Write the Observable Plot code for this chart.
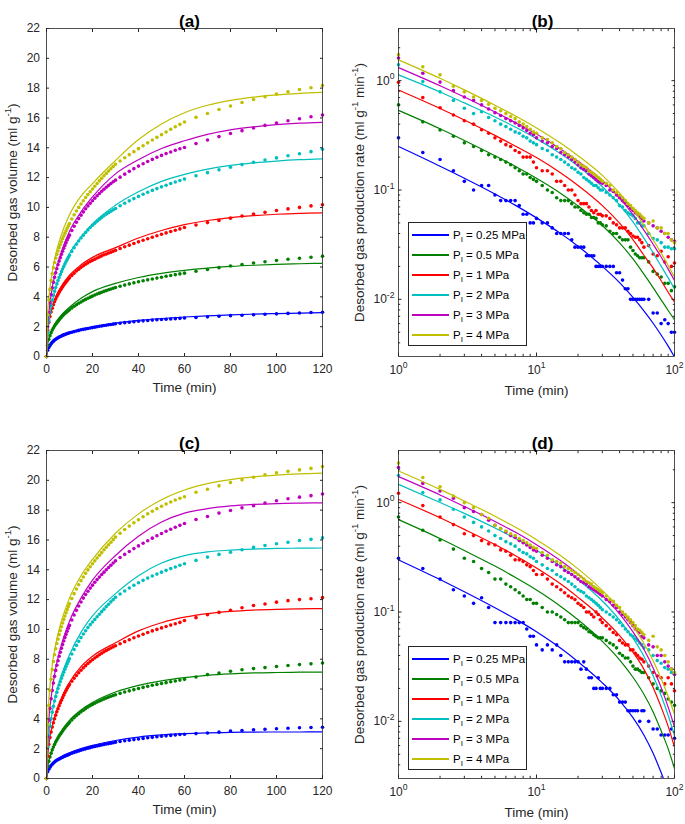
<!DOCTYPE html>
<html>
<head>
<meta charset="utf-8">
<script src="https://cdn.jsdelivr.net/npm/d3@7"></script>
<script src="https://cdn.jsdelivr.net/npm/@observablehq/plot@0.6"></script>
<style>
  body { margin: 0; background: #fff; font-family: 'Liberation Sans', Arial, Helvetica, sans-serif; }
  #wrap { position: relative; width: 685px; height: 824px; overflow: hidden; background: #fff; }
  #wrap svg { position: absolute; }
  .legend { position: absolute; width: 119px; height: 124px; box-sizing: border-box; border: 1px solid #262626;
            background: #fff; padding-top: 2px; color: #000; }
  .legend .row { height: 20px; display: flex; align-items: center; font-size: 11.5px; white-space: nowrap; }
  .legend .sw { display: inline-block; width: 37px; height: 1.5px; margin-left: 3px; margin-right: 4px; }
  .legend sub { font-size: 0.7em; vertical-align: -0.35em; line-height: 0; }
</style>
</head>
<body>
<div id="wrap"></div>
<script>
// ---------------- categories / ticks ----------------
const LABELS = ["0.25 MPa", "0.5 MPa", "1 MPa", "2 MPa", "3 MPa", "4 MPa"];
const COLORS = ["#0000ff", "#008000", "#ff0000", "#00bfbf", "#bf00bf", "#bfbf00"];
const X_TICKS_LIN = [0, 20, 40, 60, 80, 100, 120];
const Y_TICKS_VOL = [0, 2, 4, 6, 8, 10, 12, 14, 16, 18, 20, 22];
const X_MAJOR_LOG = [1, 10, 100];
const X_MINOR_LOG = [2, 3, 4, 5, 6, 7, 8, 9, 20, 30, 40, 50, 60, 70, 80, 90];
const Y_MAJOR_LOG = [0.01, 0.1, 1];
const Y_MINOR_LOG = [0.004, 0.005, 0.006, 0.007, 0.008, 0.009, 0.02, 0.03, 0.04, 0.05, 0.06, 0.07, 0.08, 0.09,
                     0.2, 0.3, 0.4, 0.5, 0.6, 0.7, 0.8, 0.9, 2];

// ---------------- time grids (min) ----------------
const T_VOL = [0,0.5,1,1.5,2,2.5,3,3.5,4,4.5,5,5.5,6,6.5,7,7.5,8,8.5,9,9.5,10,
  11,12,13,14,15,16,17,18,19,20,21,22,23,24,25,26,27,28,29,30,
  32,34,36,38,40,42,44,46,48,50,52,54,56,58,60,
  65,70,75,80,85,90,95,100,105,110,115,120];
const T_RATE = [1,1.5,2,2.5,3,3.5,4,4.5,5,5.5,6,6.5,7,7.5,8,8.5,9,9.5,10,
  11,12,13,14,15,16,17,18,19,20,21,22,23,24,25,26,27,28,29,30,
  32,34,36,38,40,42,44,46,48,50,52,54,56,58,60,
  65,70,75,80,85,90,95,100];
const T_VFIT = [0,0.5,1,2,4,6,10,15,20,30,40,50,60,70,80,90,100,110,120];
const T_RFIT = [1,2,3,5,7,10,15,20,30,40,50,60,70,80,90,100];

// ---------------- panel (a): desorbed volume, measured ----------------
const volA_025 = [0,0.42,0.6,0.74,0.86,0.95,1.03,1.1,1.16,1.21,1.26,1.3,1.34,1.38,1.42,1.45,1.48,1.51,1.54,1.56,1.59,
  1.63,1.67,1.71,1.75,1.79,1.82,1.85,1.88,1.91,1.94,1.97,2.0,2.03,2.05,2.08,2.1,2.13,2.15,2.17,2.2,
  2.23,2.27,2.3,2.33,2.36,2.39,2.41,2.44,2.46,2.48,2.5,2.52,2.54,2.56,2.58,
  2.62,2.66,2.7,2.74,2.77,2.8,2.83,2.86,2.89,2.92,2.95,2.97];
const volA_05 = [0,0.75,1.15,1.4,1.6,1.77,1.91,2.04,2.16,2.27,2.37,2.47,2.56,2.65,2.73,2.81,2.88,2.95,3.02,3.08,3.14,
  3.26,3.37,3.47,3.57,3.66,3.75,3.83,3.91,3.98,4.05,4.12,4.19,4.25,4.31,4.37,4.42,4.48,4.53,4.58,4.63,
  4.71,4.79,4.87,4.94,5.01,5.08,5.14,5.2,5.26,5.32,5.38,5.43,5.49,5.54,5.59,
  5.72,5.84,5.96,6.07,6.17,6.27,6.36,6.44,6.52,6.59,6.66,6.72];
const volA_1 = [0,1.75,2.3,2.68,2.98,3.24,3.47,3.67,3.85,4.02,4.17,4.31,4.44,4.56,4.68,4.79,4.9,5.0,5.1,5.19,5.28,
  5.44,5.59,5.73,5.86,5.98,6.09,6.19,6.28,6.37,6.45,6.53,6.61,6.68,6.75,6.82,6.88,6.94,7.0,7.06,7.12,
  7.24,7.36,7.47,7.58,7.69,7.8,7.9,8.0,8.1,8.2,8.29,8.38,8.47,8.56,8.65,
  8.82,8.98,9.13,9.28,9.42,9.55,9.67,9.79,9.9,10.0,10.1,10.18];
const volA_2 = [0,1.6,2.4,2.95,3.4,3.78,4.1,4.38,4.63,4.87,5.09,5.3,5.5,5.69,5.87,6.04,6.2,6.36,6.51,6.65,6.79,
  7.05,7.3,7.53,7.75,7.95,8.14,8.32,8.49,8.65,8.8,8.94,9.07,9.2,9.32,9.44,9.55,9.65,9.75,9.84,9.93,
  10.11,10.28,10.44,10.59,10.74,10.88,11.01,11.14,11.26,11.38,11.49,11.6,11.7,11.8,11.9,
  12.12,12.33,12.52,12.7,12.87,13.03,13.18,13.32,13.46,13.6,13.74,13.9];
const volA_3 = [0,2.0,2.95,3.6,4.15,4.6,4.98,5.31,5.61,5.89,6.15,6.4,6.63,6.85,7.06,7.26,7.45,7.63,7.81,7.98,8.14,
  8.45,8.74,9.0,9.25,9.48,9.7,9.91,10.1,10.28,10.45,10.62,10.78,10.93,11.08,11.22,11.35,11.48,11.6,11.72,11.83,
  12.03,12.23,12.42,12.6,12.77,12.93,13.08,13.22,13.36,13.49,13.61,13.72,13.83,13.93,14.02,
  14.28,14.52,14.75,14.96,15.15,15.33,15.5,15.66,15.81,15.95,16.08,16.2];
const volA_4 = [0,2.8,3.8,4.5,5.1,5.55,5.95,6.3,6.6,6.85,7.08,7.3,7.5,7.7,7.9,8.08,8.26,8.43,8.6,8.76,8.92,
  9.22,9.5,9.76,10.0,10.23,10.45,10.66,10.86,11.05,11.23,11.42,11.6,11.78,11.95,12.12,12.28,12.44,12.59,12.74,12.89,
  13.11,13.33,13.54,13.74,13.94,14.14,14.33,14.52,14.7,14.88,15.06,15.24,15.41,15.57,15.73,
  16.04,16.3,16.57,16.8,17.04,17.24,17.42,17.6,17.76,17.91,18.03,18.17];

// panel (a): fitted curves
const fitA_025 = [0,0.4,0.6,0.85,1.15,1.35,1.62,1.82,1.98,2.24,2.42,2.55,2.65,2.73,2.79,2.84,2.88,2.91,2.94];
const fitA_05  = [0,0.8,1.15,1.65,2.25,2.7,3.3,3.9,4.35,4.9,5.3,5.58,5.78,5.93,6.04,6.12,6.18,6.22,6.25];
const fitA_1   = [0,1.6,2.2,3.0,3.95,4.6,5.45,6.15,6.65,7.3,7.95,8.45,8.84,9.12,9.32,9.45,9.54,9.6,9.63];
const fitA_2   = [0,1.5,2.3,3.3,4.6,5.5,6.9,8.0,8.9,10.15,11.05,11.75,12.22,12.57,12.82,12.99,13.11,13.2,13.26];
const fitA_3   = [0,2.0,2.9,4.15,5.7,6.8,8.4,9.7,10.7,12.25,13.2,13.95,14.47,14.9,15.2,15.4,15.55,15.65,15.71];
const fitA_4   = [0,2.9,3.9,5.2,6.85,7.95,9.5,10.75,11.6,13.15,14.55,15.6,16.35,16.85,17.18,17.4,17.55,17.65,17.72];

// ---------------- panel (b): production rate, measured ----------------
const rateB_025 = [0.3,0.22,0.19,0.15,0.12,0.1,0.11,0.11,0.09,0.08,0.08,0.08,0.08,0.072,0.06,0.06,0.05,0.05,0.055,
  0.05,0.05,0.045,0.04,0.04,0.04,0.04,0.035,0.03,0.03,0.03,0.03,0.025,0.025,0.025,0.025,0.02,0.02,0.02,0.02,
  0.02,0.02,0.02,0.0175,0.0175,0.015,0.0125,0.0125,0.01,0.01,0.01,0.01,0.01,0.01,0.01,
  0.01,0.0075,0.0075,0.006,0.0065,0.006,0.005,0.005];
const rateB_05 = [0.6,0.42,0.354,0.31,0.27,0.25,0.23,0.21,0.2,0.19,0.18,0.17,0.16,0.15,0.14,0.14,0.13,0.125,0.12,
  0.11,0.1,0.095,0.085,0.08,0.08,0.08,0.075,0.07,0.07,0.065,0.062,0.06,0.06,0.056,0.056,0.055,0.05,0.05,0.048,
  0.047,0.042,0.04,0.04,0.037,0.035,0.035,0.035,0.03,0.028,0.026,0.025,0.024,0.024,0.024,
  0.022,0.018,0.017,0.016,0.014,0.014,0.012,0.013];
const rateB_1 = [0.965,0.7,0.566,0.485,0.43,0.4,0.356,0.33,0.3,0.28,0.26,0.25,0.23,0.22,0.2,0.2,0.2,0.18,0.16,
  0.15,0.15,0.14,0.12,0.12,0.11,0.1,0.1,0.09,0.08,0.075,0.075,0.075,0.07,0.065,0.062,0.065,0.06,0.06,0.058,
  0.058,0.055,0.05,0.048,0.045,0.045,0.045,0.042,0.04,0.038,0.037,0.037,0.035,0.033,0.03,
  0.031,0.026,0.025,0.0275,0.022,0.0245,0.02,0.0215];
const rateB_2 = [1.4,0.98,0.79,0.66,0.56,0.5,0.52,0.46,0.43,0.4,0.38,0.36,0.34,0.33,0.31,0.3,0.28,0.27,0.26,
  0.24,0.23,0.21,0.2,0.19,0.18,0.17,0.16,0.155,0.145,0.14,0.13,0.125,0.12,0.115,0.11,0.11,0.105,0.1,0.1,
  0.095,0.09,0.085,0.08,0.072,0.07,0.065,0.062,0.06,0.058,0.055,0.05,0.05,0.047,0.047,
  0.04,0.036,0.035,0.033,0.03,0.03,0.029,0.029];
const rateB_3 = [1.61,1.17,0.97,0.81,0.71,0.66,0.6,0.55,0.51,0.48,0.45,0.43,0.41,0.39,0.37,0.35,0.33,0.32,0.3,
  0.28,0.27,0.25,0.24,0.22,0.21,0.2,0.19,0.18,0.17,0.16,0.155,0.15,0.14,0.135,0.13,0.125,0.12,0.118,0.115,
  0.11,0.1,0.097,0.09,0.085,0.08,0.077,0.072,0.068,0.065,0.062,0.06,0.057,0.055,0.052,
  0.05,0.047,0.045,0.042,0.04,0.037,0.035,0.034];
const rateB_4 = [1.73,1.34,1.13,0.89,0.79,0.71,0.66,0.61,0.56,0.53,0.5,0.47,0.45,0.42,0.4,0.38,0.36,0.34,0.33,
  0.3,0.29,0.27,0.25,0.24,0.22,0.21,0.2,0.19,0.18,0.17,0.165,0.16,0.15,0.145,0.14,0.135,0.13,0.125,0.12,
  0.115,0.11,0.1,0.095,0.09,0.085,0.08,0.075,0.072,0.068,0.065,0.062,0.06,0.057,0.055,
  0.05,0.052,0.045,0.045,0.04,0.04,0.035,0.033];

// panel (b): fitted curves
const fitB_025 = [0.25,0.165,0.1283,0.092,0.0727,0.0556,0.0399,0.0306,0.02,0.0142,0.0104,0.00785,0.00604,0.00472,0.00373,0.00297];
const fitB_05  = [0.535,0.363,0.284,0.206,0.165,0.128,0.093,0.0716,0.0473,0.0328,0.0234,0.017,0.0128,0.0099,0.0079,0.0065];
const fitB_1   = [0.822,0.557,0.437,0.316,0.253,0.198,0.143,0.11,0.072,0.0497,0.0351,0.0253,0.0193,0.0148,0.0116,0.0094];
const fitB_2   = [1.13,0.788,0.626,0.466,0.377,0.295,0.214,0.165,0.107,0.0731,0.0511,0.0363,0.0267,0.0201,0.0157,0.0125];
const fitB_3   = [1.318,0.899,0.709,0.516,0.415,0.325,0.236,0.183,0.1224,0.0843,0.0597,0.0429,0.0319,0.0244,0.0189,0.0149];
const fitB_4   = [1.55,1.051,0.824,0.597,0.477,0.369,0.267,0.206,0.136,0.0937,0.0663,0.0477,0.0351,0.0265,0.0204,0.016];

// ---------------- panel (c): desorbed volume, measured ----------------
const volC_025 = [0,0.45,0.62,0.76,0.87,0.96,1.04,1.11,1.17,1.22,1.27,1.31,1.35,1.39,1.43,1.47,1.5,1.54,1.57,1.6,1.63,
  1.69,1.75,1.8,1.85,1.9,1.95,1.99,2.03,2.07,2.11,2.15,2.18,2.22,2.25,2.28,2.31,2.34,2.37,2.4,2.43,
  2.48,2.53,2.57,2.61,2.65,2.69,2.73,2.76,2.8,2.83,2.86,2.89,2.92,2.95,2.97,
  3.01,3.05,3.11,3.18,3.22,3.27,3.3,3.34,3.37,3.4,3.42,3.44];
const volC_05 = [0,0.8,1.15,1.45,1.7,1.92,2.11,2.28,2.44,2.58,2.72,2.85,2.97,3.08,3.19,3.3,3.4,3.5,3.59,3.68,3.77,
  3.93,4.08,4.22,4.35,4.47,4.58,4.69,4.79,4.88,4.97,5.05,5.13,5.2,5.27,5.34,5.4,5.46,5.52,5.57,5.62,
  5.71,5.8,5.88,5.96,6.04,6.11,6.18,6.25,6.31,6.37,6.43,6.49,6.54,6.6,6.65,
  6.81,6.97,7.08,7.19,7.29,7.37,7.44,7.51,7.58,7.64,7.69,7.75];
const volC_1 = [0,1.5,2.3,2.75,3.12,3.45,3.74,4.0,4.24,4.47,4.68,4.88,5.07,5.25,5.42,5.59,5.75,5.9,6.05,6.19,6.3,
  6.52,6.72,6.91,7.09,7.26,7.42,7.57,7.71,7.84,7.96,8.08,8.19,8.3,8.4,8.5,8.59,8.67,8.75,8.83,8.9,
  9.04,9.18,9.31,9.44,9.56,9.68,9.79,9.9,10.0,10.1,10.2,10.29,10.38,10.47,10.6,
  10.79,10.99,11.14,11.28,11.45,11.6,11.7,11.83,11.93,12.0,12.06,12.13];
const volC_2 = [0,2.1,2.9,3.5,4.0,4.45,4.85,5.2,5.5,5.78,6.03,6.27,6.5,6.72,6.93,7.13,7.32,7.51,7.69,7.86,8.03,
  8.35,8.65,8.93,9.2,9.45,9.69,9.91,10.12,10.32,10.5,10.67,10.85,11.02,11.19,11.36,11.53,11.69,11.85,12.0,12.15,
  12.37,12.58,12.78,12.96,13.13,13.29,13.44,13.58,13.71,13.84,13.96,14.08,14.19,14.3,14.4,
  14.63,14.85,15.03,15.18,15.34,15.5,15.63,15.75,15.85,15.96,16.04,16.14];
const volC_3 = [0,2.8,3.9,4.7,5.35,5.9,6.4,6.85,7.25,7.6,7.9,8.2,8.47,8.73,8.98,9.22,9.45,9.67,9.88,10.08,10.27,
  10.63,10.97,11.28,11.57,11.84,12.1,12.34,12.56,12.77,12.97,13.16,13.34,13.51,13.68,13.84,14.0,14.15,14.3,14.45,14.6,
  14.82,15.03,15.23,15.42,15.6,15.78,15.95,16.12,16.28,16.43,16.58,16.72,16.85,16.98,17.1,
  17.37,17.57,17.8,17.98,18.16,18.3,18.48,18.63,18.76,18.87,18.97,19.08];
const volC_4 = [0,3.6,4.9,5.9,6.65,7.3,7.85,8.3,8.7,9.05,9.35,9.65,9.92,10.18,10.43,10.67,10.9,11.12,11.33,11.53,11.72,
  12.07,12.4,12.71,13.0,13.27,13.52,13.76,13.99,14.2,14.4,14.6,14.79,14.97,15.15,15.34,15.51,15.68,15.85,16.02,16.19,
  16.45,16.7,16.93,17.15,17.36,17.56,17.75,17.93,18.1,18.26,18.41,18.55,18.68,18.8,18.9,
  19.2,19.4,19.63,19.85,20.03,20.21,20.37,20.5,20.6,20.7,20.8,20.92];

// panel (c): fitted curves
const fitC_025 = [0,0.45,0.62,0.88,1.2,1.42,1.72,2.0,2.22,2.55,2.78,2.92,3.01,3.06,3.09,3.11,3.12,3.12,3.13];
const fitC_05  = [0,0.75,1.15,1.7,2.5,3.05,3.9,4.6,5.1,5.8,6.25,6.55,6.76,6.92,7.02,7.08,7.11,7.13,7.14];
const fitC_1   = [0,1.4,2.2,3.15,4.35,5.2,6.45,7.5,8.2,9.1,9.9,10.45,10.82,11.06,11.21,11.3,11.35,11.38,11.39];
const fitC_2   = [0,1.9,2.8,4.0,5.6,6.7,8.3,9.8,10.9,12.4,13.6,14.45,14.95,15.2,15.32,15.39,15.43,15.45,15.46];
const fitC_3   = [0,2.7,3.9,5.4,7.4,8.7,10.55,12.1,13.3,14.96,16.25,17.2,17.8,18.1,18.28,18.38,18.44,18.47,18.49];
const fitC_4   = [0,3.9,5.2,7.0,9.0,10.3,12.1,13.6,14.7,16.45,17.75,18.7,19.35,19.78,20.05,20.23,20.35,20.43,20.48];

// ---------------- panel (d): production rate, measured ----------------
const rateD_025 = [0.31,0.25,0.2,0.16,0.14,0.12,0.135,0.11,0.08,0.08,0.08,0.08,0.08,0.08,0.08,0.07,0.06,0.06,0.05,
  0.045,0.05,0.045,0.05,0.04,0.035,0.035,0.035,0.035,0.035,0.03,0.035,0.03,0.025,0.025,0.02,0.02,0.025,0.02,0.02,
  0.02,0.02,0.0175,0.0175,0.015,0.015,0.015,0.0125,0.0125,0.0125,0.0125,0.0125,0.01,0.0125,0.0125,
  0.01,0.0085,0.0085,0.0075,0.0075,0.0075,0.0085,0.007];
const rateD_05 = [0.74,0.56,0.455,0.376,0.31,0.29,0.25,0.23,0.2,0.2,0.18,0.17,0.16,0.15,0.14,0.13,0.13,0.12,0.12,
  0.11,0.1,0.1,0.095,0.09,0.085,0.08,0.08,0.08,0.08,0.075,0.072,0.07,0.066,0.065,0.062,0.06,0.058,0.058,0.058,
  0.055,0.052,0.05,0.047,0.042,0.04,0.038,0.038,0.035,0.032,0.03,0.03,0.029,0.028,0.028,
  0.025,0.022,0.02,0.019,0.018,0.016,0.015,0.014];
const rateD_1 = [1.22,0.94,0.74,0.63,0.52,0.5,0.45,0.42,0.41,0.37,0.36,0.33,0.3,0.3,0.29,0.27,0.26,0.24,0.22,
  0.22,0.2,0.18,0.17,0.16,0.15,0.14,0.135,0.13,0.12,0.115,0.11,0.1,0.1,0.095,0.09,0.1,0.095,0.085,0.08,
  0.075,0.07,0.065,0.062,0.055,0.052,0.05,0.05,0.045,0.045,0.042,0.04,0.038,0.037,0.035,
  0.032,0.028,0.026,0.025,0.022,0.025,0.022,0.019];
const rateD_2 = [1.77,1.24,1.06,0.87,0.74,0.66,0.6,0.55,0.5,0.47,0.44,0.42,0.4,0.37,0.35,0.34,0.32,0.31,0.29,
  0.27,0.25,0.24,0.22,0.21,0.2,0.19,0.18,0.17,0.16,0.155,0.15,0.14,0.135,0.13,0.125,0.12,0.115,0.11,0.105,
  0.1,0.095,0.09,0.085,0.08,0.075,0.07,0.066,0.062,0.06,0.057,0.055,0.052,0.05,0.047,
  0.045,0.04,0.036,0.034,0.031,0.03,0.028,0.027];
const rateD_3 = [2.1,1.5,1.28,1.1,0.9,0.83,0.78,0.69,0.62,0.58,0.54,0.5,0.48,0.45,0.43,0.41,0.39,0.37,0.36,
  0.33,0.31,0.29,0.27,0.26,0.24,0.23,0.22,0.21,0.2,0.19,0.185,0.18,0.17,0.165,0.16,0.155,0.15,0.145,0.14,
  0.13,0.125,0.115,0.11,0.1,0.095,0.09,0.085,0.08,0.075,0.07,0.068,0.065,0.06,0.058,
  0.05,0.048,0.04,0.04,0.035,0.032,0.03,0.027];
const rateD_4 = [2.3,1.7,1.4,1.15,1.0,0.9,0.78,0.72,0.62,0.58,0.55,0.52,0.5,0.47,0.45,0.43,0.41,0.39,0.38,
  0.35,0.33,0.3,0.29,0.28,0.26,0.25,0.24,0.23,0.22,0.21,0.2,0.19,0.185,0.18,0.17,0.165,0.16,0.155,0.15,
  0.14,0.13,0.125,0.115,0.11,0.1,0.095,0.09,0.085,0.08,0.075,0.07,0.068,0.065,0.062,
  0.055,0.06,0.048,0.045,0.04,0.035,0.03,0.028];

// panel (d): fitted curves
const fitD_025 = [0.3,0.198,0.1533,0.1094,0.0865,0.066,0.0465,0.0351,0.0225,0.0155,0.0108,0.0075,0.0051,0.0034,0.0023,0.0015];
const fitD_05  = [0.7,0.47,0.365,0.263,0.208,0.159,0.1125,0.0848,0.0539,0.0365,0.0253,0.0177,0.0122,0.0082,0.0056,0.0037];
const fitD_1   = [1.07,0.728,0.57,0.414,0.329,0.2525,0.18,0.136,0.0882,0.0609,0.0429,0.03,0.0204,0.0135,0.009,0.0058];
const fitD_2   = [1.47,1.005,0.798,0.587,0.472,0.367,0.262,0.198,0.126,0.0844,0.0576,0.0394,0.0261,0.0172,0.0113,0.0074];
const fitD_3   = [1.73,1.177,0.923,0.673,0.538,0.413,0.294,0.223,0.1418,0.0961,0.0658,0.0456,0.0308,0.0204,0.0135,0.0089];
const fitD_4   = [1.95,1.323,1.037,0.752,0.598,0.459,0.327,0.248,0.1575,0.1068,0.0739,0.0518,0.0358,0.0246,0.0169,0.0116];

// ---------------- drawing ----------------
const FONT = "'Liberation Sans', Arial, Helvetica, sans-serif";
const INK = "#262626";
const Y_LABEL_VOL = "Desorbed gas volume (ml g^{-1})";
const Y_LABEL_RATE = "Desorbed gas production rate (ml g^{-1} min^{-1})";
const X_LABEL = "Time (min)";
const wrap = document.getElementById("wrap");

function seriesMarks(tDots, dotArrays, tFit, fitArrays) {
  return dotArrays.flatMap((arr, i) => [
    Plot.dot(arr.map((v, j) => ({t: tDots[j], v, s: LABELS[i]})),
      {x: "t", y: "v", r: 1.8, fill: COLORS[i], stroke: "none"}),
    Plot.line(fitArrays[i].map((v, j) => ({t: tFit[j], v, s: LABELS[i]})),
      {x: "t", y: "v", stroke: COLORS[i], strokeWidth: 1.2, curve: "monotone-x", clip: true})
  ]);
}

function supify(root) {
  d3.select(root).selectAll("text").each(function () {
    const s = this.textContent;
    if (!s.includes("^{")) return;
    const fs = parseFloat(getComputedStyle(this).fontSize) || 12;
    const parts = s.split(/\^\{([^}]*)\}/);
    const el = d3.select(this);
    el.text(null);
    let raised = false;
    parts.forEach((p, i) => {
      if (p === "") return;
      const ts = el.append("tspan").text(p);
      if (i % 2 === 1) { ts.attr("dy", -0.42 * fs).attr("font-size", 0.72 * fs); raised = true; }
      else if (raised) { ts.attr("dy", 0.42 * fs); raised = false; }
    });
  });
}

function place(svg, left, top) {
  svg.style.left = left + "px";
  svg.style.top = top + "px";
  wrap.appendChild(svg);
  supify(svg);
}

function volumePanel({left, top, height, mt, mb, title, dots, fits}) {
  const svg = Plot.plot({
    width: 342, height, marginLeft: 46, marginRight: 20, marginTop: mt, marginBottom: mb,
    style: {fontFamily: FONT, fontSize: "12px", color: INK, background: "white", overflow: "visible"},
    x: {type: "linear", domain: [0, 120], label: null},
    y: {type: "linear", domain: [0, 22], label: null},
    marks: [
      ...seriesMarks(T_VOL, dots, T_VFIT, fits),
      Plot.frame({stroke: INK, strokeWidth: 0.8}),
      Plot.axisX(X_TICKS_LIN, {anchor: "bottom", tickSize: -3, tickPadding: 11, label: null, stroke: INK}),
      Plot.axisX(X_TICKS_LIN, {anchor: "top", tickSize: -3, tickFormat: () => "", label: null, stroke: INK}),
      Plot.axisY(Y_TICKS_VOL, {anchor: "left", tickSize: -3, tickPadding: 9.5, label: null, stroke: INK}),
      Plot.axisY(Y_TICKS_VOL, {anchor: "right", tickSize: -3, tickFormat: () => "", label: null, stroke: INK}),
      Plot.text([title], {frameAnchor: "top", dy: -14, dx: 5, fontWeight: "bold", fontSize: 17, fill: "black"}),
      Plot.text([Y_LABEL_VOL], {frameAnchor: "left", textAnchor: "middle", dx: -34, rotate: -90, fontSize: 13.5, fill: INK}),
      Plot.text([X_LABEL], {frameAnchor: "bottom", textAnchor: "middle", dy: 35, fontSize: 13.5, fill: INK})
    ]
  });
  place(svg, left, top);
}

const logFmt = d => `10^{${Math.round(Math.log10(d))}}`;

function ratePanel({left, top, height, mt, mb, title, dots, fits}) {
  const svg = Plot.plot({
    width: 343, height, marginLeft: 56, marginRight: 11, marginTop: mt, marginBottom: mb,
    style: {fontFamily: FONT, fontSize: "12px", color: INK, background: "white", overflow: "visible"},
    x: {type: "log", domain: [1, 100], label: null},
    y: {type: "log", domain: [0.003, 3], label: null},
    marks: [
      ...seriesMarks(T_RATE, dots, T_RFIT, fits),
      Plot.frame({stroke: INK, strokeWidth: 0.8}),
      Plot.axisX(X_MAJOR_LOG, {anchor: "bottom", tickSize: -3.5, tickPadding: 12, tickFormat: logFmt, label: null, stroke: INK}),
      Plot.axisX(X_MINOR_LOG, {anchor: "bottom", tickSize: -2.2, tickFormat: () => "", label: null, stroke: INK}),
      Plot.axisX(X_MAJOR_LOG, {anchor: "top", tickSize: -3.5, tickFormat: () => "", label: null, stroke: INK}),
      Plot.axisX(X_MINOR_LOG, {anchor: "top", tickSize: -2.2, tickFormat: () => "", label: null, stroke: INK}),
      Plot.axisY(Y_MAJOR_LOG, {anchor: "left", tickSize: -3.5, tickPadding: 7.5, tickFormat: logFmt, label: null, stroke: INK}),
      Plot.axisY(Y_MINOR_LOG, {anchor: "left", tickSize: -2.2, tickFormat: () => "", label: null, stroke: INK}),
      Plot.axisY(Y_MAJOR_LOG, {anchor: "right", tickSize: -3.5, tickFormat: () => "", label: null, stroke: INK}),
      Plot.axisY(Y_MINOR_LOG, {anchor: "right", tickSize: -2.2, tickFormat: () => "", label: null, stroke: INK}),
      Plot.text([title], {frameAnchor: "top", dy: -14, dx: 6, fontWeight: "bold", fontSize: 17, fill: "black"}),
      Plot.text([Y_LABEL_RATE], {frameAnchor: "left", textAnchor: "middle", dx: -39, rotate: -90, fontSize: 13.5, fill: INK}),
      Plot.text([X_LABEL], {frameAnchor: "bottom", textAnchor: "middle", dy: 38, fontSize: 13.5, fill: INK})
    ]
  });
  place(svg, left, top);
}

function legend(left, top) {
  const div = d3.select(wrap).append("div").attr("class", "legend")
    .style("left", left + "px").style("top", top + "px");
  LABELS.forEach((lab, i) => {
    const row = div.append("div").attr("class", "row");
    row.append("span").attr("class", "sw").style("background", COLORS[i]);
    row.append("span").html(`P<sub>I</sub> = ${lab}`);
  });
}

volumePanel({left: 0, top: 0, height: 410, mt: 28, mb: 54, title: "(a)",
  dots: [volA_025, volA_05, volA_1, volA_2, volA_3, volA_4],
  fits: [fitA_025, fitA_05, fitA_1, fitA_2, fitA_3, fitA_4]});
ratePanel({left: 342, top: 0, height: 410, mt: 28, mb: 54, title: "(b)",
  dots: [rateB_025, rateB_05, rateB_1, rateB_2, rateB_3, rateB_4],
  fits: [fitB_025, fitB_05, fitB_1, fitB_2, fitB_3, fitB_4]});
volumePanel({left: 0, top: 410, height: 414, mt: 40, mb: 46, title: "(c)",
  dots: [volC_025, volC_05, volC_1, volC_2, volC_3, volC_4],
  fits: [fitC_025, fitC_05, fitC_1, fitC_2, fitC_3, fitC_4]});
ratePanel({left: 342, top: 410, height: 414, mt: 40, mb: 46, title: "(d)",
  dots: [rateD_025, rateD_05, rateD_1, rateD_2, rateD_3, rateD_4],
  fits: [fitD_025, fitD_05, fitD_1, fitD_2, fitD_3, fitD_4]});
legend(408, 222);
legend(408, 646);
</script>
</body>
</html>
